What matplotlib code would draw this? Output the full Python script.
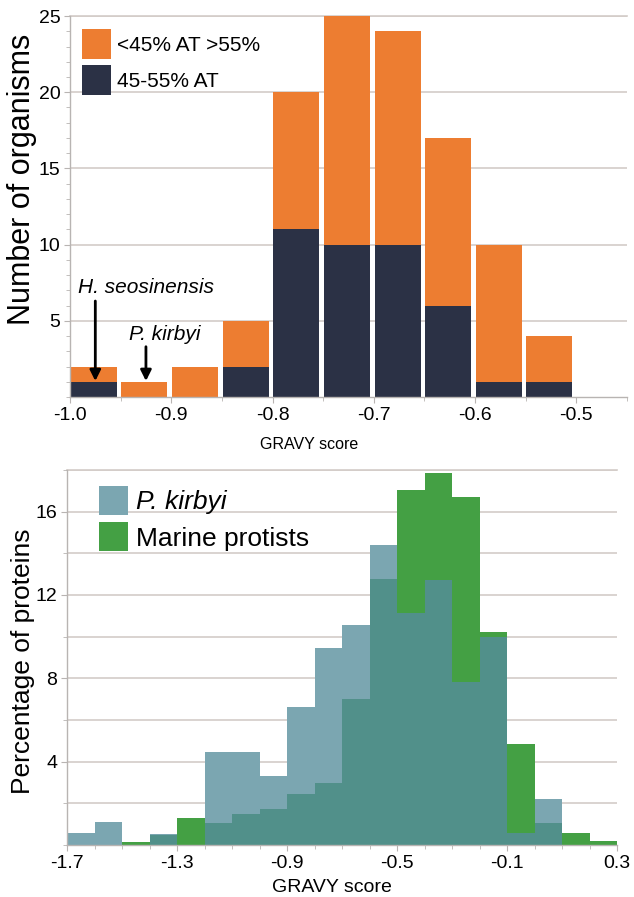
import matplotlib
matplotlib.use("Agg")
import matplotlib.pyplot as plt
import numpy as np
from matplotlib.ticker import MultipleLocator

plt.rcParams["font.family"] = ["Liberation Sans", "DejaVu Sans"]

# organisms per GRAVY bin (bin width 0.05)
org_bin_left = [-1.0, -0.95, -0.9, -0.85, -0.8, -0.75, -0.7, -0.65, -0.6, -0.55]
org_at_mid = [1, 0, 0, 2, 11, 10, 10, 6, 1, 1]          # 45-55% AT
org_at_extreme = [1, 1, 2, 3, 9, 15, 14, 11, 9, 3]      # <45% AT >55%

# protein GRAVY distributions (bin width 0.1)
prot_bin_left = [-1.7, -1.6, -1.5, -1.4, -1.3, -1.2, -1.1, -1.0, -0.9, -0.8,
                 -0.7, -0.6, -0.5, -0.4, -0.3, -0.2, -0.1, 0.0, 0.1, 0.2]
pct_kirbyi = [0.56, 1.12, 0.0, 0.55, 0.0, 4.48, 4.48, 3.31, 6.63, 9.43,
              10.55, 14.42, 11.11, 12.71, 7.80, 10.0, 0.56, 2.21, 0.0, 0.0]
pct_marine = [0.0, 0.0, 0.16, 0.5, 1.31, 1.07, 1.49, 1.71, 2.45, 2.99,
              7.03, 12.76, 17.03, 17.83, 16.71, 10.20, 4.84, 1.04, 0.59, 0.19]

ORANGE = "#ed7d31"
NAVY = "#2b3145"
LBLUE = "#7ba6b1"
GREEN = "#44a044"
TEAL = "#51908a"
GRID = "#d3ccc8"
SPINE = "#b8b4b2"

fig = plt.figure(figsize=(6.34, 8.97), dpi=100)
ax1 = fig.add_axes([0.1104, 0.5574, 0.8785, 0.4247])
ax2 = fig.add_axes([0.1057, 0.058, 0.8675, 0.4181])


def style_axes(ax, top):
    for s in ["top", "right"]:
        ax.spines[s].set_visible(False)
    for s in ["left", "bottom"]:
        ax.spines[s].set_color(SPINE)
        ax.spines[s].set_linewidth(1.0)
    ax.set_axisbelow(True)
    ax.yaxis.grid(True, color=GRID, lw=1.2)
    ax.axhline(top, color=GRID, lw=1.2, clip_on=False, zorder=0)
    ax.tick_params(which="major", length=4, color=SPINE, labelsize=14, pad=3)
    ax.tick_params(which="minor", length=3, color=SPINE)


# --- top: stacked histogram of organisms ---
x = np.array(org_bin_left)
mid = np.array(org_at_mid)
ext = np.array(org_at_extreme)
ax1.bar(x + 0.0007, mid, width=0.0455, align="edge", color=NAVY, label="45-55% AT")
ax1.bar(x + 0.0007, ext, width=0.0455, align="edge", bottom=mid, color=ORANGE,
        label="<45% AT >55%")
style_axes(ax1, 25)
ax1.set_xlim(-1.0, -0.45)
ax1.set_ylim(0, 25)
ax1.set_yticks([5, 10, 15, 20, 25])
ax1.yaxis.set_minor_locator(MultipleLocator(1))
ax1.set_xticks([-1.0, -0.9, -0.8, -0.7, -0.6, -0.5])
ax1.set_xticklabels(["-1.0", "-0.9", "-0.8", "-0.7", "-0.6", "-0.5"])
ax1.xaxis.set_minor_locator(MultipleLocator(0.05))
ax1.set_ylabel("Number of organisms", fontsize=22)
ax1.yaxis.set_label_coords(-0.06, 0.57)
ax1.set_xlabel("GRAVY score", fontsize=11.5)
ax1.xaxis.set_label_coords(0.43, -0.105)

h, l = ax1.get_legend_handles_labels()
ax1.legend(h[::-1], l[::-1], loc="upper left", bbox_to_anchor=(0.0, 1.0),
           frameon=False, fontsize=15, handlelength=1.35, handleheight=1.9,
           handletextpad=0.3, labelspacing=0.25, borderaxespad=0.2)

arrow = dict(arrowstyle="-|>", lw=2, color="black", mutation_scale=16,
             shrinkA=0, shrinkB=0)
ax1.annotate("", xy=(-0.975, 1.05), xytext=(-0.975, 6.3), arrowprops=arrow)
ax1.text(-0.925, 7.2, "H. seosinensis", style="italic", fontsize=15,
         ha="center", va="center")
ax1.annotate("", xy=(-0.925, 1.05), xytext=(-0.925, 3.3), arrowprops=arrow)
ax1.text(-0.906, 4.1, "P. kirbyi", style="italic", fontsize=15,
         ha="center", va="center")

# --- bottom: overlapping protein histograms ---
px = np.array(prot_bin_left)
kb = np.array(pct_kirbyi)
mp = np.array(pct_marine)
ax2.bar(px, kb, width=0.1, align="edge", color=LBLUE, lw=0, label="P. kirbyi")
ax2.bar(px, mp, width=0.1, align="edge", color=GREEN, lw=0, label="Marine protists")
ax2.bar(px, np.minimum(kb, mp), width=0.1, align="edge", color=TEAL, lw=0)
style_axes(ax2, 18)
ax2.set_xlim(-1.7, 0.3)
ax2.set_ylim(0, 18)
ax2.set_yticks([4, 8, 12, 16])
ax2.yaxis.set_minor_locator(MultipleLocator(2))
ax2.yaxis.grid(True, which="minor", color=GRID, lw=1.2)
ax2.set_xticks([-1.7, -1.3, -0.9, -0.5, -0.1, 0.3])
ax2.set_xticklabels(["-1.7", "-1.3", "-0.9", "-0.5", "-0.1", "0.3"])
ax2.xaxis.set_minor_locator(MultipleLocator(0.1))
ax2.set_ylabel("Percentage of proteins", fontsize=19)
ax2.yaxis.set_label_coords(-0.058, 0.49)
ax2.set_xlabel("GRAVY score", fontsize=14)
ax2.xaxis.set_label_coords(0.482, -0.09)

leg2 = ax2.legend(loc="upper left", bbox_to_anchor=(0.03, 1.0), frameon=False,
                  fontsize=19, handlelength=1.1, handleheight=1.3,
                  handletextpad=0.3, labelspacing=0.3, borderaxespad=0.2)
leg2.get_texts()[0].set_style("italic")

fig.savefig("out.png", dpi=100)
